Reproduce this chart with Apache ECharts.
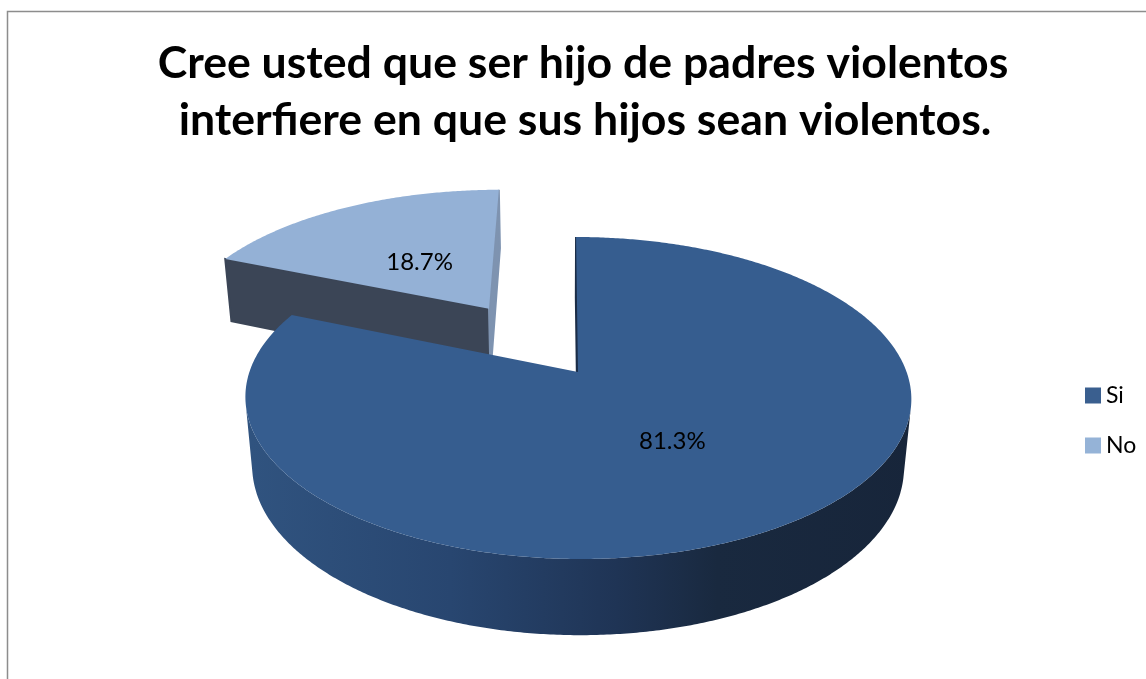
<!DOCTYPE html>
<html>
<head>
<meta charset="utf-8">
<script src="https://cdn.jsdelivr.net/npm/echarts@6/dist/echarts.min.js"></script>
<style>
html,body{margin:0;padding:0;background:#fff;}
#chart{width:1146px;height:679px;}
</style>
</head>
<body>
<div id="chart"></div>
<script>
// ---- data ----
const categories = ['Si', 'No'];
const values = [81.3, 18.7];
const titleLines = ['Cree usted que ser hijo de padres violentos', 'interfiere en que sus hijos sean violentos.'];

// ---- style / layout ----
const topColors = { Si: '#365d8f', No: '#94b1d6' };
const legendColors = { Si: '#3a5f8f', No: '#95b3d7' };
const startFaceColors = { Si: '#1b2d47', No: '#3b4556' };
const endFaceColors = { Si: '#1b2d47', No: '#7e93b0' };
const explodeDist = { Si: 0, No: 170 };
const view = { cx: 578, cy: 372, R: 328.6, alpha: 28.5 * Math.PI / 180, f: 1788, T: 79, ox: -14 };
const sa = Math.sin(view.alpha), ca = Math.cos(view.alpha);

function proj(X, Z, H) {
  const up = Z * sa + H * ca;
  const d = Z * ca - H * sa;
  const s = view.f / (view.f + d);
  return [view.cx + view.ox + (X - view.ox) * s, view.cy - up * s];
}
const camZ = -view.f * ca, camX = view.ox;
const rad = d => d * Math.PI / 180;

function wallGradient() {
  return new echarts.graphic.LinearGradient(251, 0, 917, 0, [
    { offset: 0, color: '#30537f' },
    { offset: 0.3, color: '#284670' },
    { offset: 0.55, color: '#1f3455' },
    { offset: 0.7, color: '#19293f' },
    { offset: 1, color: '#17253a' }
  ], true);
}

function renderItem(params, api) {
  const name = params.seriesName;
  const idx = categories.indexOf(name);
  const total = values.reduce((a, b) => a + b, 0);
  let before = 0;
  for (let k = 0; k < idx; k++) before += values[k];
  const v = api.value(0);
  const a0 = before / total * 360;
  const a1 = (before + v) / total * 360;
  const mid = rad((a0 + a1) / 2);
  const e = explodeDist[name];
  const oX = e * Math.sin(mid), oZ = e * Math.cos(mid);
  const R = view.R, T = view.T;
  const children = [];
  const rim = (deg, H) => proj(oX + R * Math.sin(rad(deg)), oZ + R * Math.cos(rad(deg)), H);

  // radial faces
  const faces = [
    { deg: a0, nx: -Math.cos(rad(a0)), nz: Math.sin(rad(a0)), color: startFaceColors[name] },
    { deg: a1, nx: Math.cos(rad(a1)), nz: -Math.sin(rad(a1)), color: endFaceColors[name] }
  ];
  faces.forEach(fc => {
    const vis = (camX - oX) * fc.nx + (camZ - oZ) * fc.nz;
    if (vis > 0) {
      const pts = [proj(oX, oZ, 0), rim(fc.deg, 0), rim(fc.deg, -T), proj(oX, oZ, -T)];
      children.push({ type: 'polygon', shape: { points: pts }, style: { fill: fc.color, stroke: fc.color, lineWidth: 2 } });
    }
  });

  // outer wall (visible part)
  const step = 0.5;
  let run = [];
  const runs = [];
  for (let d = a0; d <= a1 + 1e-9; d += step) {
    const dd = Math.min(d, a1);
    const px = oX + R * Math.sin(rad(dd)), pz = oZ + R * Math.cos(rad(dd));
    const vis = (camX - px) * Math.sin(rad(dd)) + (camZ - pz) * Math.cos(rad(dd));
    if (vis > 0) run.push(dd); else if (run.length) { runs.push(run); run = []; }
  }
  if (run.length) runs.push(run);
  runs.forEach(r => {
    if (r.length < 2) return;
    const pts = r.map(d => rim(d, 0)).concat(r.slice().reverse().map(d => rim(d, -T)));
    children.push({ type: 'polygon', shape: { points: pts }, style: { fill: name === 'Si' ? wallGradient() : startFaceColors[name] } });
  });

  // top face
  const topPts = [proj(oX, oZ, 0)];
  for (let d = a0; d < a1; d += step) topPts.push(rim(d, 0));
  topPts.push(rim(a1, 0));
  children.push({ type: 'polygon', shape: { points: topPts }, style: { fill: topColors[name] } });

  // label
  const k = 0.47;
  const lp = proj(oX + k * R * Math.sin(mid), oZ + k * R * Math.cos(mid), 0);
  children.push({
    type: 'text',
    style: { text: (v / total * 100).toFixed(1) + '%', x: lp[0] + 2, y: lp[1] + 4, align: 'center', verticalAlign: 'middle', font: '24px Lato', fill: '#000' }
  });
  return { type: 'group', children };
}

// title font sized to the reference line width
const cvs = document.createElement('canvas').getContext('2d');
cvs.font = 'bold 100px Lato';
const titleSize = Math.round(100 * 850 / cvs.measureText(titleLines[0]).width * 10) / 10;

const chart = echarts.init(document.getElementById('chart'), null, { renderer: 'canvas' });
chart.setOption({
  animation: false,
  legend: {
    orient: 'vertical', left: 1080, top: 379, itemWidth: 16, itemHeight: 16, itemGap: 27,
    icon: 'rect', data: categories, selectedMode: false,
    textStyle: { fontFamily: 'Lato', fontSize: 23, color: '#000', lineHeight: 22 }
  },
  graphic: [
    { type: 'rect', shape: { x: 7.5, y: 11.5, width: 1300, height: 800 }, style: { fill: 'none', stroke: '#8d8d8d', lineWidth: 1.5 }, silent: true },
    { type: 'text', style: { text: titleLines[0], x: 583, y: 64, align: 'center', verticalAlign: 'middle', font: 'bold ' + titleSize + 'px Lato', fill: '#000' } },
    { type: 'text', style: { text: titleLines[1], x: 585, y: 121, align: 'center', verticalAlign: 'middle', font: 'bold ' + titleSize + 'px Lato', fill: '#000' } }
  ],
  series: categories.map((c, i) => ({
    type: 'custom', name: c, coordinateSystem: 'none', silent: true,
    z: c === 'Si' ? 3 : 2,
    itemStyle: { color: legendColors[c] },
    data: [values[i]],
    renderItem
  }))
});
</script>
</body>
</html>
